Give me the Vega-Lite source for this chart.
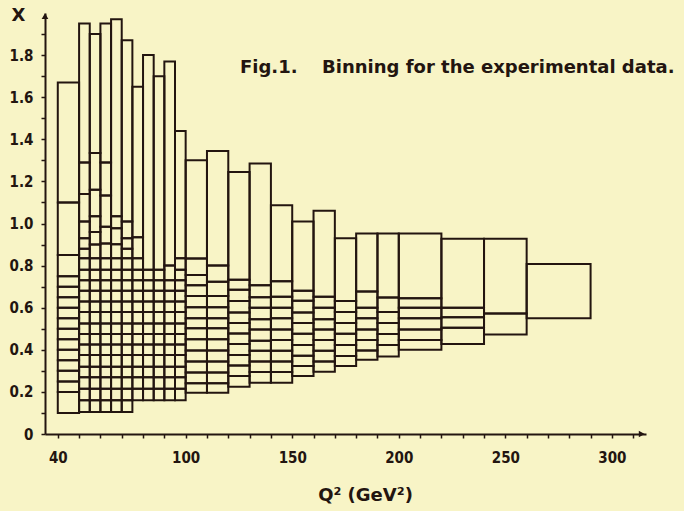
{
"$schema":"https://vega.github.io/schema/vega-lite/v6.json",
"width":601,"height":421,
"autosize":{"type":"none"},
"padding":{"left":45,"top":13,"right":38,"bottom":77},
"background":"#f8f4c6",
"config":{"view":{"stroke":null},
 "axis":{"domainColor":"#231510","domainWidth":2,"tickColor":"#231510","tickWidth":1.5,"tickSize":4,"grid":false,
  "labelFont":"DejaVu Sans Condensed, DejaVu Sans, sans-serif","labelFontWeight":"bold","labelFontSize":15,"labelColor":"#231510",
  "titleFont":"DejaVu Sans","titleFontWeight":"bold","titleFontSize":18,"titleColor":"#231510"}},
"encoding":{
 "x":{"field":"q1","type":"quantitative","scale":{"domain":[34,316],"nice":false,"zero":false},
  "axis":{"values":[40,50,60,70,80,90,100,110,120,130,140,150,160,170,180,190,200,210,220,230,240,250,260,270,280,290,300,310],
   "labelExpr":"indexof([40,100,150,200,250,300], datum.value) >= 0 ? datum.label : ''",
   "labelOverlap":false,"labelFlush":false,"labelPadding":12,
   "title":"Q² (GeV²)","titleX":320,"titleY":66,"titleBaseline":"alphabetic","titleAlign":"center"}},
 "y":{"field":"x1","type":"quantitative","scale":{"domain":[0,2],"nice":false,"zero":false},
  "axis":{"values":[0,0.1,0.2,0.3,0.4,0.5,0.6,0.7,0.8,0.9,1.0,1.1,1.2,1.3,1.4,1.5,1.6,1.7,1.8,1.9],
   "labelExpr":"round(datum.value*10)%2==1 ? '' : (datum.value==0 ? '0' : format(datum.value,'.1f'))",
   "labelOverlap":false,"labelPadding":8,
   "title":"X","titleAngle":0,"titleX":-27,"titleY":2,"titleAlign":"center","titleBaseline":"middle"}}},
"layer":[
{"data":{"values":[
{"q1":40,"q2":50,"x1":0.1,"x2":0.2},{"q1":40,"q2":50,"x1":0.2,"x2":0.25},{"q1":40,"q2":50,"x1":0.25,"x2":0.3},{"q1":40,"q2":50,"x1":0.3,"x2":0.35},{"q1":40,"q2":50,"x1":0.35,"x2":0.4},{"q1":40,"q2":50,"x1":0.4,"x2":0.45},{"q1":40,"q2":50,"x1":0.45,"x2":0.5},{"q1":40,"q2":50,"x1":0.5,"x2":0.55},{"q1":40,"q2":50,"x1":0.55,"x2":0.6},{"q1":40,"q2":50,"x1":0.6,"x2":0.65},{"q1":40,"q2":50,"x1":0.65,"x2":0.7},{"q1":40,"q2":50,"x1":0.7,"x2":0.75},{"q1":40,"q2":50,"x1":0.75,"x2":0.85},{"q1":40,"q2":50,"x1":0.85,"x2":1.1},{"q1":40,"q2":50,"x1":1.1,"x2":1.67},

{"q1":50,"q2":55,"x1":0.105,"x2":0.16},{"q1":50,"q2":55,"x1":0.16,"x2":0.215},{"q1":50,"q2":55,"x1":0.215,"x2":0.27},{"q1":50,"q2":55,"x1":0.27,"x2":0.32},{"q1":50,"q2":55,"x1":0.32,"x2":0.375},{"q1":50,"q2":55,"x1":0.375,"x2":0.425},{"q1":50,"q2":55,"x1":0.425,"x2":0.475},{"q1":50,"q2":55,"x1":0.475,"x2":0.525},{"q1":50,"q2":55,"x1":0.525,"x2":0.58},{"q1":50,"q2":55,"x1":0.58,"x2":0.63},{"q1":50,"q2":55,"x1":0.63,"x2":0.68},{"q1":50,"q2":55,"x1":0.68,"x2":0.73},{"q1":50,"q2":55,"x1":0.73,"x2":0.78},{"q1":50,"q2":55,"x1":0.78,"x2":0.835},
{"q1":50,"q2":55,"x1":0.835,"x2":0.88},{"q1":50,"q2":55,"x1":0.88,"x2":0.93},{"q1":50,"q2":55,"x1":0.93,"x2":1.01},{"q1":50,"q2":55,"x1":1.01,"x2":1.14},{"q1":50,"q2":55,"x1":1.14,"x2":1.29},{"q1":50,"q2":55,"x1":1.29,"x2":1.95},

{"q1":55,"q2":60,"x1":0.105,"x2":0.16},{"q1":55,"q2":60,"x1":0.16,"x2":0.215},{"q1":55,"q2":60,"x1":0.215,"x2":0.27},{"q1":55,"q2":60,"x1":0.27,"x2":0.32},{"q1":55,"q2":60,"x1":0.32,"x2":0.375},{"q1":55,"q2":60,"x1":0.375,"x2":0.425},{"q1":55,"q2":60,"x1":0.425,"x2":0.475},{"q1":55,"q2":60,"x1":0.475,"x2":0.525},{"q1":55,"q2":60,"x1":0.525,"x2":0.58},{"q1":55,"q2":60,"x1":0.58,"x2":0.63},{"q1":55,"q2":60,"x1":0.63,"x2":0.68},{"q1":55,"q2":60,"x1":0.68,"x2":0.73},{"q1":55,"q2":60,"x1":0.73,"x2":0.78},{"q1":55,"q2":60,"x1":0.78,"x2":0.835},
{"q1":55,"q2":60,"x1":0.835,"x2":0.9},{"q1":55,"q2":60,"x1":0.9,"x2":0.96},{"q1":55,"q2":60,"x1":0.96,"x2":1.035},{"q1":55,"q2":60,"x1":1.035,"x2":1.16},{"q1":55,"q2":60,"x1":1.16,"x2":1.335},{"q1":55,"q2":60,"x1":1.335,"x2":1.9},

{"q1":60,"q2":65,"x1":0.105,"x2":0.16},{"q1":60,"q2":65,"x1":0.16,"x2":0.215},{"q1":60,"q2":65,"x1":0.215,"x2":0.27},{"q1":60,"q2":65,"x1":0.27,"x2":0.32},{"q1":60,"q2":65,"x1":0.32,"x2":0.375},{"q1":60,"q2":65,"x1":0.375,"x2":0.425},{"q1":60,"q2":65,"x1":0.425,"x2":0.475},{"q1":60,"q2":65,"x1":0.475,"x2":0.525},{"q1":60,"q2":65,"x1":0.525,"x2":0.58},{"q1":60,"q2":65,"x1":0.58,"x2":0.63},{"q1":60,"q2":65,"x1":0.63,"x2":0.68},{"q1":60,"q2":65,"x1":0.68,"x2":0.73},{"q1":60,"q2":65,"x1":0.73,"x2":0.78},{"q1":60,"q2":65,"x1":0.78,"x2":0.835},
{"q1":60,"q2":65,"x1":0.835,"x2":0.905},{"q1":60,"q2":65,"x1":0.905,"x2":0.985},{"q1":60,"q2":65,"x1":0.985,"x2":1.133},{"q1":60,"q2":65,"x1":1.133,"x2":1.29},{"q1":60,"q2":65,"x1":1.29,"x2":1.95},

{"q1":65,"q2":70,"x1":0.105,"x2":0.16},{"q1":65,"q2":70,"x1":0.16,"x2":0.215},{"q1":65,"q2":70,"x1":0.215,"x2":0.27},{"q1":65,"q2":70,"x1":0.27,"x2":0.32},{"q1":65,"q2":70,"x1":0.32,"x2":0.375},{"q1":65,"q2":70,"x1":0.375,"x2":0.425},{"q1":65,"q2":70,"x1":0.425,"x2":0.475},{"q1":65,"q2":70,"x1":0.475,"x2":0.525},{"q1":65,"q2":70,"x1":0.525,"x2":0.58},{"q1":65,"q2":70,"x1":0.58,"x2":0.63},{"q1":65,"q2":70,"x1":0.63,"x2":0.68},{"q1":65,"q2":70,"x1":0.68,"x2":0.73},{"q1":65,"q2":70,"x1":0.73,"x2":0.78},{"q1":65,"q2":70,"x1":0.78,"x2":0.835},
{"q1":65,"q2":70,"x1":0.835,"x2":0.902},{"q1":65,"q2":70,"x1":0.902,"x2":0.977},{"q1":65,"q2":70,"x1":0.977,"x2":1.035},{"q1":65,"q2":70,"x1":1.035,"x2":1.97},

{"q1":70,"q2":75,"x1":0.105,"x2":0.16},{"q1":70,"q2":75,"x1":0.16,"x2":0.215},{"q1":70,"q2":75,"x1":0.215,"x2":0.27},{"q1":70,"q2":75,"x1":0.27,"x2":0.32},{"q1":70,"q2":75,"x1":0.32,"x2":0.375},{"q1":70,"q2":75,"x1":0.375,"x2":0.425},{"q1":70,"q2":75,"x1":0.425,"x2":0.475},{"q1":70,"q2":75,"x1":0.475,"x2":0.525},{"q1":70,"q2":75,"x1":0.525,"x2":0.58},{"q1":70,"q2":75,"x1":0.58,"x2":0.63},{"q1":70,"q2":75,"x1":0.63,"x2":0.68},{"q1":70,"q2":75,"x1":0.68,"x2":0.73},{"q1":70,"q2":75,"x1":0.73,"x2":0.78},{"q1":70,"q2":75,"x1":0.78,"x2":0.835},
{"q1":70,"q2":75,"x1":0.835,"x2":0.88},{"q1":70,"q2":75,"x1":0.88,"x2":0.93},{"q1":70,"q2":75,"x1":0.93,"x2":1.01},{"q1":70,"q2":75,"x1":1.01,"x2":1.87},

{"q1":75,"q2":80,"x1":0.16,"x2":0.215},{"q1":75,"q2":80,"x1":0.215,"x2":0.27},{"q1":75,"q2":80,"x1":0.27,"x2":0.32},{"q1":75,"q2":80,"x1":0.32,"x2":0.375},{"q1":75,"q2":80,"x1":0.375,"x2":0.425},{"q1":75,"q2":80,"x1":0.425,"x2":0.475},{"q1":75,"q2":80,"x1":0.475,"x2":0.525},{"q1":75,"q2":80,"x1":0.525,"x2":0.58},{"q1":75,"q2":80,"x1":0.58,"x2":0.63},{"q1":75,"q2":80,"x1":0.63,"x2":0.68},{"q1":75,"q2":80,"x1":0.68,"x2":0.73},{"q1":75,"q2":80,"x1":0.73,"x2":0.78},{"q1":75,"q2":80,"x1":0.78,"x2":0.835},{"q1":75,"q2":80,"x1":0.835,"x2":0.935},{"q1":75,"q2":80,"x1":0.935,"x2":1.65},

{"q1":80,"q2":85,"x1":0.16,"x2":0.215},{"q1":80,"q2":85,"x1":0.215,"x2":0.27},{"q1":80,"q2":85,"x1":0.27,"x2":0.32},{"q1":80,"q2":85,"x1":0.32,"x2":0.375},{"q1":80,"q2":85,"x1":0.375,"x2":0.425},{"q1":80,"q2":85,"x1":0.425,"x2":0.475},{"q1":80,"q2":85,"x1":0.475,"x2":0.525},{"q1":80,"q2":85,"x1":0.525,"x2":0.58},{"q1":80,"q2":85,"x1":0.58,"x2":0.63},{"q1":80,"q2":85,"x1":0.63,"x2":0.68},{"q1":80,"q2":85,"x1":0.68,"x2":0.73},{"q1":80,"q2":85,"x1":0.73,"x2":0.78},{"q1":80,"q2":85,"x1":0.78,"x2":1.8},

{"q1":85,"q2":90,"x1":0.16,"x2":0.215},{"q1":85,"q2":90,"x1":0.215,"x2":0.27},{"q1":85,"q2":90,"x1":0.27,"x2":0.32},{"q1":85,"q2":90,"x1":0.32,"x2":0.375},{"q1":85,"q2":90,"x1":0.375,"x2":0.425},{"q1":85,"q2":90,"x1":0.425,"x2":0.475},{"q1":85,"q2":90,"x1":0.475,"x2":0.525},{"q1":85,"q2":90,"x1":0.525,"x2":0.58},{"q1":85,"q2":90,"x1":0.58,"x2":0.63},{"q1":85,"q2":90,"x1":0.63,"x2":0.68},{"q1":85,"q2":90,"x1":0.68,"x2":0.73},{"q1":85,"q2":90,"x1":0.73,"x2":0.78},{"q1":85,"q2":90,"x1":0.78,"x2":1.7},

{"q1":90,"q2":95,"x1":0.16,"x2":0.215},{"q1":90,"q2":95,"x1":0.215,"x2":0.27},{"q1":90,"q2":95,"x1":0.27,"x2":0.32},{"q1":90,"q2":95,"x1":0.32,"x2":0.375},{"q1":90,"q2":95,"x1":0.375,"x2":0.425},{"q1":90,"q2":95,"x1":0.425,"x2":0.475},{"q1":90,"q2":95,"x1":0.475,"x2":0.525},{"q1":90,"q2":95,"x1":0.525,"x2":0.58},{"q1":90,"q2":95,"x1":0.58,"x2":0.63},{"q1":90,"q2":95,"x1":0.63,"x2":0.68},{"q1":90,"q2":95,"x1":0.68,"x2":0.73},{"q1":90,"q2":95,"x1":0.73,"x2":0.8},{"q1":90,"q2":95,"x1":0.8,"x2":1.77},

{"q1":95,"q2":100,"x1":0.16,"x2":0.215},{"q1":95,"q2":100,"x1":0.215,"x2":0.27},{"q1":95,"q2":100,"x1":0.27,"x2":0.32},{"q1":95,"q2":100,"x1":0.32,"x2":0.375},{"q1":95,"q2":100,"x1":0.375,"x2":0.425},{"q1":95,"q2":100,"x1":0.425,"x2":0.475},{"q1":95,"q2":100,"x1":0.475,"x2":0.525},{"q1":95,"q2":100,"x1":0.525,"x2":0.58},{"q1":95,"q2":100,"x1":0.58,"x2":0.63},{"q1":95,"q2":100,"x1":0.63,"x2":0.68},{"q1":95,"q2":100,"x1":0.68,"x2":0.73},{"q1":95,"q2":100,"x1":0.73,"x2":0.78},{"q1":95,"q2":100,"x1":0.78,"x2":0.835},{"q1":95,"q2":100,"x1":0.835,"x2":1.44},

{"q1":100,"q2":110,"x1":0.196,"x2":0.241},{"q1":100,"q2":110,"x1":0.241,"x2":0.292},{"q1":100,"q2":110,"x1":0.292,"x2":0.344},{"q1":100,"q2":110,"x1":0.344,"x2":0.397},{"q1":100,"q2":110,"x1":0.397,"x2":0.45},{"q1":100,"q2":110,"x1":0.45,"x2":0.502},{"q1":100,"q2":110,"x1":0.502,"x2":0.55},{"q1":100,"q2":110,"x1":0.55,"x2":0.602},{"q1":100,"q2":110,"x1":0.602,"x2":0.655},{"q1":100,"q2":110,"x1":0.655,"x2":0.707},{"q1":100,"q2":110,"x1":0.707,"x2":0.755},{"q1":100,"q2":110,"x1":0.755,"x2":0.834},{"q1":100,"q2":110,"x1":0.834,"x2":1.3},

{"q1":110,"q2":120,"x1":0.196,"x2":0.241},{"q1":110,"q2":120,"x1":0.241,"x2":0.292},{"q1":110,"q2":120,"x1":0.292,"x2":0.344},{"q1":110,"q2":120,"x1":0.344,"x2":0.397},{"q1":110,"q2":120,"x1":0.397,"x2":0.45},{"q1":110,"q2":120,"x1":0.45,"x2":0.502},{"q1":110,"q2":120,"x1":0.502,"x2":0.55},{"q1":110,"q2":120,"x1":0.55,"x2":0.602},{"q1":110,"q2":120,"x1":0.602,"x2":0.655},{"q1":110,"q2":120,"x1":0.655,"x2":0.723},{"q1":110,"q2":120,"x1":0.723,"x2":0.8},{"q1":110,"q2":120,"x1":0.8,"x2":1.344},

{"q1":120,"q2":130,"x1":0.225,"x2":0.276},{"q1":120,"q2":130,"x1":0.276,"x2":0.325},{"q1":120,"q2":130,"x1":0.325,"x2":0.375},{"q1":120,"q2":130,"x1":0.375,"x2":0.427},{"q1":120,"q2":130,"x1":0.427,"x2":0.478},{"q1":120,"q2":130,"x1":0.478,"x2":0.527},{"q1":120,"q2":130,"x1":0.527,"x2":0.577},{"q1":120,"q2":130,"x1":0.577,"x2":0.632},{"q1":120,"q2":130,"x1":0.632,"x2":0.685},{"q1":120,"q2":130,"x1":0.685,"x2":0.733},{"q1":120,"q2":130,"x1":0.733,"x2":1.245},

{"q1":130,"q2":140,"x1":0.244,"x2":0.294},{"q1":130,"q2":140,"x1":0.294,"x2":0.344},{"q1":130,"q2":140,"x1":0.344,"x2":0.395},{"q1":130,"q2":140,"x1":0.395,"x2":0.443},{"q1":130,"q2":140,"x1":0.443,"x2":0.497},{"q1":130,"q2":140,"x1":0.497,"x2":0.545},{"q1":130,"q2":140,"x1":0.545,"x2":0.6},{"q1":130,"q2":140,"x1":0.6,"x2":0.65},{"q1":130,"q2":140,"x1":0.65,"x2":0.707},{"q1":130,"q2":140,"x1":0.707,"x2":1.285},

{"q1":140,"q2":150,"x1":0.244,"x2":0.294},{"q1":140,"q2":150,"x1":0.294,"x2":0.344},{"q1":140,"q2":150,"x1":0.344,"x2":0.395},{"q1":140,"q2":150,"x1":0.395,"x2":0.447},{"q1":140,"q2":150,"x1":0.447,"x2":0.497},{"q1":140,"q2":150,"x1":0.497,"x2":0.55},{"q1":140,"q2":150,"x1":0.55,"x2":0.6},{"q1":140,"q2":150,"x1":0.6,"x2":0.652},{"q1":140,"q2":150,"x1":0.652,"x2":0.726},{"q1":140,"q2":150,"x1":0.726,"x2":1.087},

{"q1":150,"q2":160,"x1":0.276,"x2":0.323},{"q1":150,"q2":160,"x1":0.323,"x2":0.372},{"q1":150,"q2":160,"x1":0.372,"x2":0.423},{"q1":150,"q2":160,"x1":0.423,"x2":0.476},{"q1":150,"q2":160,"x1":0.476,"x2":0.527},{"q1":150,"q2":160,"x1":0.527,"x2":0.577},{"q1":150,"q2":160,"x1":0.577,"x2":0.633},{"q1":150,"q2":160,"x1":0.633,"x2":0.68},{"q1":150,"q2":160,"x1":0.68,"x2":1.01},

{"q1":160,"q2":170,"x1":0.296,"x2":0.344},{"q1":160,"q2":170,"x1":0.344,"x2":0.395},{"q1":160,"q2":170,"x1":0.395,"x2":0.447},{"q1":160,"q2":170,"x1":0.447,"x2":0.497},{"q1":160,"q2":170,"x1":0.497,"x2":0.545},{"q1":160,"q2":170,"x1":0.545,"x2":0.6},{"q1":160,"q2":170,"x1":0.6,"x2":0.652},{"q1":160,"q2":170,"x1":0.652,"x2":1.06},

{"q1":170,"q2":180,"x1":0.323,"x2":0.37},{"q1":170,"q2":180,"x1":0.37,"x2":0.423},{"q1":170,"q2":180,"x1":0.423,"x2":0.476},{"q1":170,"q2":180,"x1":0.476,"x2":0.527},{"q1":170,"q2":180,"x1":0.527,"x2":0.58},{"q1":170,"q2":180,"x1":0.58,"x2":0.632},{"q1":170,"q2":180,"x1":0.632,"x2":0.93},

{"q1":180,"q2":190,"x1":0.353,"x2":0.397},{"q1":180,"q2":190,"x1":0.397,"x2":0.447},{"q1":180,"q2":190,"x1":0.447,"x2":0.497},{"q1":180,"q2":190,"x1":0.497,"x2":0.55},{"q1":180,"q2":190,"x1":0.55,"x2":0.6},{"q1":180,"q2":190,"x1":0.6,"x2":0.677},{"q1":180,"q2":190,"x1":0.677,"x2":0.953},

{"q1":190,"q2":200,"x1":0.368,"x2":0.423},{"q1":190,"q2":200,"x1":0.423,"x2":0.475},{"q1":190,"q2":200,"x1":0.475,"x2":0.527},{"q1":190,"q2":200,"x1":0.527,"x2":0.58},{"q1":190,"q2":200,"x1":0.58,"x2":0.648},{"q1":190,"q2":200,"x1":0.648,"x2":0.953},

{"q1":200,"q2":220,"x1":0.4,"x2":0.447},{"q1":200,"q2":220,"x1":0.447,"x2":0.497},{"q1":200,"q2":220,"x1":0.497,"x2":0.55},{"q1":200,"q2":220,"x1":0.55,"x2":0.6},{"q1":200,"q2":220,"x1":0.6,"x2":0.645},{"q1":200,"q2":220,"x1":0.645,"x2":0.953},

{"q1":220,"q2":240,"x1":0.427,"x2":0.505},{"q1":220,"q2":240,"x1":0.505,"x2":0.555},{"q1":220,"q2":240,"x1":0.555,"x2":0.6},{"q1":220,"q2":240,"x1":0.6,"x2":0.927},

{"q1":240,"q2":260,"x1":0.473,"x2":0.572},{"q1":240,"q2":260,"x1":0.572,"x2":0.927},

{"q1":260,"q2":290,"x1":0.55,"x2":0.808}
]},
"mark":{"type":"rect","fillOpacity":0,"fill":"#ffffff","stroke":"#231510","strokeWidth":2},
"encoding":{"x2":{"field":"q2"},"y2":{"field":"x2"}}},
{"data":{"values":[{"q1":125.5,"x1":1.74,"t":"Fig.1."},{"q1":164,"x1":1.74,"t":"Binning for the experimental data."}]},
 "mark":{"type":"text","align":"left","baseline":"middle","font":"DejaVu Sans","fontWeight":"bold","fontSize":18,"color":"#231510"},
 "encoding":{"text":{"field":"t"}}},
{"data":{"values":[{"q1":314,"x1":0,"s":"triangle-right"},{"q1":34,"x1":1.985,"s":"triangle-up"}]},
 "mark":{"type":"point","filled":true,"size":45,"color":"#231510","opacity":1},
 "encoding":{"shape":{"field":"s","type":"nominal","scale":null}}}
]}
